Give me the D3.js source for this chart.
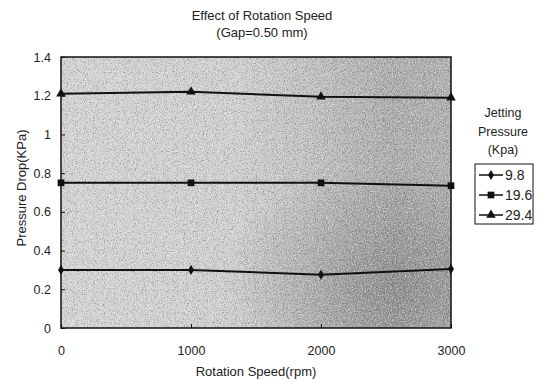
<!DOCTYPE html>
<html>
<head>
<meta charset="utf-8">
<script src="https://cdn.jsdelivr.net/npm/d3@7"></script>
<style>
  body { margin: 0; background: #fff; }
  text { font-family: "Liberation Sans", Arial, sans-serif; fill: #222; }
</style>
</head>
<body>
<div id="chart"></div>
<script>
const speeds = [0, 1000, 2000, 3000];
const p98 = [0.30, 0.30, 0.275, 0.305];
const p196 = [0.75, 0.75, 0.75, 0.735];
const p294 = [1.21, 1.22, 1.195, 1.19];
const seriesNames = ["9.8", "19.6", "29.4"];
const yTicks = [0, 0.2, 0.4, 0.6, 0.8, 1, 1.2, 1.4];
const xTicks = [0, 1000, 2000, 3000];

const width = 547, height = 380;
const margin = { left: 61, right: 96, top: 57, bottom: 52 };
const w = width - margin.left - margin.right;
const h = height - margin.top - margin.bottom;

const svg = d3.select("#chart").append("svg")
  .attr("width", width)
  .attr("height", height);

const defs = svg.append("defs");
const grad = defs.append("linearGradient").attr("id", "bg").attr("x1", 0).attr("x2", 1).attr("y1", 0).attr("y2", 0);
[["0%", "#d4d4d4"], ["45%", "#d0d0d0"], ["65%", "#c0c0c0"], ["85%", "#acacac"], ["100%", "#b0b0b0"]]
  .forEach(s => grad.append("stop").attr("offset", s[0]).attr("stop-color", s[1]));
const rad = defs.append("radialGradient").attr("id", "dark").attr("cx", 0.85).attr("cy", 0.85).attr("r", 0.45);
rad.append("stop").attr("offset", "0%").attr("stop-color", "#555").attr("stop-opacity", 0.35);
rad.append("stop").attr("offset", "100%").attr("stop-color", "#555").attr("stop-opacity", 0);
const noise = defs.append("filter").attr("id", "noise").attr("x", 0).attr("y", 0).attr("width", 1).attr("height", 1);
noise.append("feTurbulence").attr("type", "fractalNoise").attr("baseFrequency", 0.9).attr("numOctaves", 2).attr("seed", 4);
noise.append("feColorMatrix").attr("type", "matrix")
  .attr("values", "0 0 0 0 0  0 0 0 0 0  0 0 0 0 0  0 0 0 -3 1.5");
const speck = defs.append("filter").attr("id", "speck").attr("x", 0).attr("y", 0).attr("width", 1).attr("height", 1);
speck.append("feTurbulence").attr("type", "fractalNoise").attr("baseFrequency", 0.7).attr("numOctaves", 2).attr("seed", 9);
speck.append("feColorMatrix").attr("type", "matrix")
  .attr("values", "0 0 0 0 1  0 0 0 0 1  0 0 0 0 1  0 0 0 3 -1.4");

const g = svg.append("g").attr("transform", "translate(" + margin.left + "," + margin.top + ")");

const x = d3.scaleLinear().domain([0, 3000]).range([0, w]);
const y = d3.scaleLinear().domain([0, 1.4]).range([h, 0]);

g.append("rect").attr("width", w).attr("height", h).attr("fill", "url(#bg)");
g.append("rect").attr("width", w).attr("height", h).attr("fill", "url(#dark)");
g.append("rect").attr("width", w).attr("height", h).attr("filter", "url(#noise)").attr("opacity", 0.3);
g.append("rect").attr("width", w).attr("height", h).attr("filter", "url(#speck)").attr("opacity", 0.5);
g.append("rect").attr("width", w).attr("height", h).attr("fill", "none").attr("stroke", "#111").attr("stroke-width", 1.5);

// axes with inward ticks
const yAxis = g.append("g")
  .call(d3.axisLeft(y).tickValues(yTicks).tickSize(-4).tickPadding(10).tickFormat(d3.format("")));
yAxis.select(".domain").remove();
yAxis.selectAll("line").attr("stroke", "#111");
yAxis.selectAll("text").attr("font-size", 12.5).attr("fill", "#222");

const xAxis = g.append("g").attr("transform", "translate(0," + h + ")")
  .call(d3.axisBottom(x).tickValues(xTicks).tickSize(-4).tickPadding(18).tickFormat(d3.format("")));
xAxis.select(".domain").remove();
xAxis.selectAll("line").attr("stroke", "#111");
xAxis.selectAll("text").attr("font-size", 12.5).attr("fill", "#222");

const series = [p98, p196, p294];
const symbols = [d3.symbolDiamond, d3.symbolSquare, d3.symbolTriangle];
const sizes = [30, 45, 40];
const line = d3.line().x((d, i) => x(speeds[i])).y(d => y(d));

series.forEach((vals, k) => {
  g.append("path").datum(vals)
    .attr("fill", "none").attr("stroke", "#111").attr("stroke-width", 2)
    .attr("d", line);
  g.selectAll(".m" + k).data(vals).enter().append("path")
    .attr("class", "m" + k)
    .attr("transform", (d, i) => "translate(" + x(speeds[i]) + "," + y(d) + ")")
    .attr("d", d3.symbol().type(symbols[k]).size(sizes[k]))
    .attr("fill", "#111");
});

svg.append("text").attr("x", 262).attr("y", 20).attr("text-anchor", "middle")
  .attr("font-size", 13).text("Effect of Rotation Speed");
svg.append("text").attr("x", 262).attr("y", 37).attr("text-anchor", "middle")
  .attr("font-size", 13).text("(Gap=0.50 mm)");

svg.append("text").attr("x", 256).attr("y", 376).attr("text-anchor", "middle")
  .attr("font-size", 13).text("Rotation Speed(rpm)");
svg.append("text").attr("transform", "translate(26,188) rotate(-90)").attr("text-anchor", "middle")
  .attr("font-size", 13).text("Pressure Drop(KPa)");

// legend
["Jetting", "Pressure", "(Kpa)"].forEach((t, i) => {
  svg.append("text").attr("x", 503).attr("y", 117 + i * 18.5).attr("text-anchor", "middle")
    .attr("font-size", 12.5).text(t);
});
const leg = svg.append("g").attr("transform", "translate(475,164)");
leg.append("rect").attr("width", 58).attr("height", 60).attr("fill", "#fff").attr("stroke", "#111").attr("stroke-width", 1);
seriesNames.forEach((name, k) => {
  const ly = 11 + k * 20;
  leg.append("line").attr("x1", 4).attr("x2", 28).attr("y1", ly).attr("y2", ly).attr("stroke", "#111").attr("stroke-width", 1.5);
  leg.append("path").attr("transform", "translate(16," + ly + ")")
    .attr("d", d3.symbol().type(symbols[k]).size(sizes[k])).attr("fill", "#111");
  leg.append("text").attr("x", 30).attr("y", ly + 4.5).attr("font-size", 14).text(name);
});
</script>
</body>
</html>
